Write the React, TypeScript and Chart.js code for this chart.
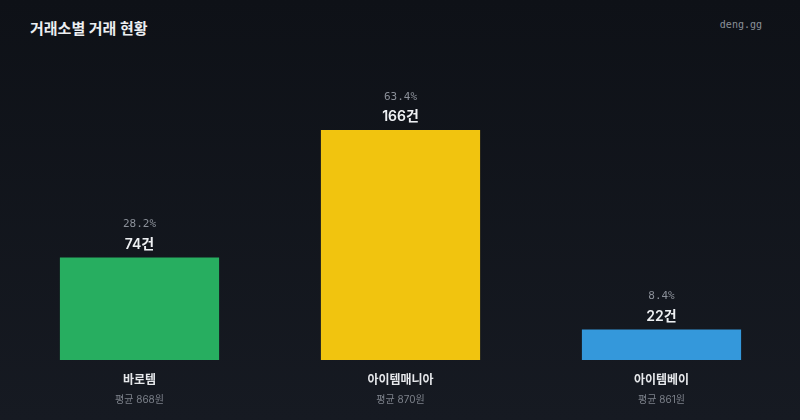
import { useEffect, useRef } from "react";
import { Chart, registerables } from "chart.js";
Chart.register(...registerables);

const exchanges = ["바로템", "아이템매니아", "아이템베이"];
const tradeCounts = [74, 166, 22];
const avgPrices = [868, 870, 861];
const barColors = ["#27ae60", "#f1c40f", "#3498db"];

const KR_FONT = 'Inter, "Noto Sans CJK KR", "Noto Sans", sans-serif';
const MONO_FONT = '"DejaVu Sans Mono", monospace';

const labelPlugin = {
  id: "barLabels",
  afterDatasetsDraw(chart: any) {
    const { ctx } = chart;
    const meta = chart.getDatasetMeta(0);
    const total = tradeCounts.reduce((a, b) => a + b, 0);
    ctx.save();
    ctx.textAlign = "center";
    ctx.textBaseline = "middle";
    meta.data.forEach((bar: any, i: number) => {
      const x = bar.x;
      const top = bar.y;
      const bottom = bar.base;
      ctx.fillStyle = "#8b9099";
      ctx.font = `11px ${MONO_FONT}`;
      ctx.fillText(`${((tradeCounts[i] / total) * 100).toFixed(1)}%`, x, top - 33);
      ctx.fillStyle = "#eef0f3";
      ctx.font = `600 14px ${KR_FONT}`;
      ctx.fillText(`${tradeCounts[i]}건`, x, top - 13);
      ctx.fillStyle = "#e6e8eb";
      ctx.font = `600 12px ${KR_FONT}`;
      ctx.fillText(exchanges[i], x, bottom + 20);
      ctx.fillStyle = "#7d828b";
      ctx.font = `10px ${KR_FONT}`;
      ctx.fillText(`평균 ${avgPrices[i]}원`, x, bottom + 40);
    });
    ctx.restore();
  },
};

const App = () => {
  const chartRef = useRef<HTMLCanvasElement | null>(null);

  useEffect(() => {
    document.body.style.margin = "0";
    if (!chartRef.current) return;
    const ctx = chartRef.current.getContext("2d");
    if (!ctx) return;
    const chart = new Chart(ctx, {
      type: "bar",
      data: {
        labels: exchanges,
        datasets: [
          {
            data: tradeCounts,
            backgroundColor: barColors,
            borderWidth: 0,
            barPercentage: 0.61,
            categoryPercentage: 1,
          },
        ],
      },
      options: {
        animation: false,
        responsive: true,
        maintainAspectRatio: false,
        layout: { padding: { left: 9, right: 8, top: 130, bottom: 60 } },
        scales: {
          x: { display: false },
          y: { display: false, min: 0, max: 166 },
        },
        plugins: {
          legend: { display: false },
          tooltip: { enabled: false },
        },
      },
      plugins: [labelPlugin],
    });
    return () => chart.destroy();
  }, []);

  return (
    <div
      style={{
        position: "relative",
        width: 800,
        height: 420,
        background: "linear-gradient(180deg, #0e1117 0%, #161a22 100%)",
        overflow: "hidden",
      }}
    >
      <div
        style={{
          position: "absolute",
          left: 30,
          top: 17,
          fontFamily: KR_FONT,
          fontWeight: 700,
          fontSize: 15,
          color: "#eceef1",
        }}
      >
        거래소별 거래 현황
      </div>
      <div
        style={{
          position: "absolute",
          right: 38,
          top: 19,
          fontFamily: MONO_FONT,
          fontSize: 10,
          color: "#8b9099",
        }}
      >
        deng.gg
      </div>
      <div style={{ position: "absolute", inset: 0 }}>
        <canvas ref={chartRef}></canvas>
      </div>
    </div>
  );
};

export default App;
